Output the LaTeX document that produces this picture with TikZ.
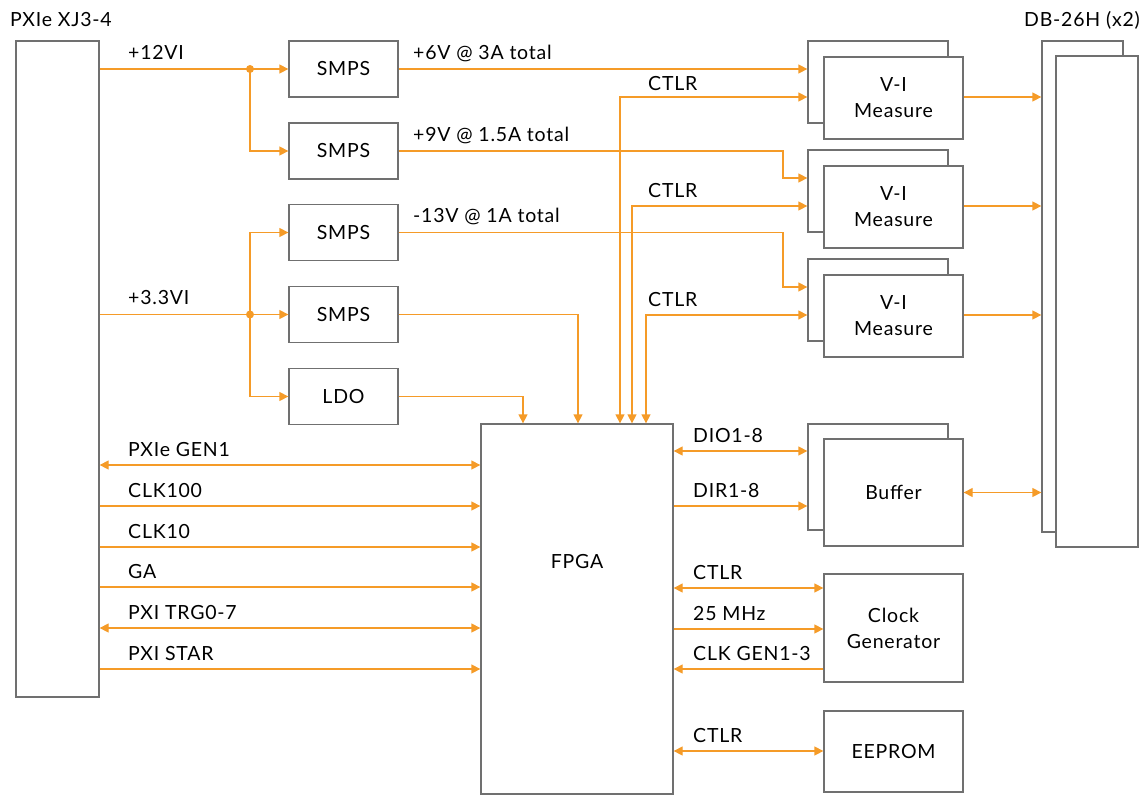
\documentclass[tikz,border=0pt]{standalone}
\usepackage{fontspec}
\setmainfont{Lato}[LetterSpace=4]
\usetikzlibrary{arrows.meta,calc}
\definecolor{wirec}{RGB}{245,155,40}
\definecolor{framec}{RGB}{112,112,112}
\begin{document}
\begin{tikzpicture}[x=1pt,y=-1pt,
  txt/.style={font=\fontsize{19.5}{26}\selectfont},
  box/.style={draw=framec,line width=1.3pt,fill=white,inner sep=0pt,align=center,txt},
  wire/.style={draw=wirec,line width=1.3pt,-{Triangle[length=9pt,width=9pt]}},
  bi/.style={draw=wirec,line width=1.3pt,{Triangle[length=9pt,width=9pt]}-{Triangle[length=9pt,width=9pt]}},
  lbl/.style={anchor=base west,inner sep=0pt,txt}]
\useasboundingbox (0,0) rectangle (1146,795);
% main blocks
\node[box,minimum width=83pt,minimum height=656pt] (pxie) at (57.5,369) {};
\node[box,minimum width=109pt,minimum height=56pt] (smps1) at (343.5,69) {SMPS};
\node[box,minimum width=109pt,minimum height=56pt] (smps2) at (343.5,151) {SMPS};
\node[box,minimum width=109pt,minimum height=56pt] (smps3) at (343.5,232.5) {SMPS};
\node[box,minimum width=109pt,minimum height=56pt] (smps4) at (343.5,314.5) {SMPS};
\node[box,minimum width=109pt,minimum height=56pt] (ldo) at (343.5,396.5) {LDO};
\node[box,minimum width=192pt,minimum height=370pt] (fpga) at (577,609) {};
\node[txt,inner sep=0pt] (fpgalbl) at (577,562) {FPGA};
% V-I measure stacks
\node[box,minimum width=140pt,minimum height=82pt] (vi1b) at (878,82) {};
\node[box,minimum width=139pt,minimum height=82pt] (vi1) at (893.5,98) {V-I\\Measure};
\node[box,minimum width=140pt,minimum height=82pt] (vi2b) at (878,191) {};
\node[box,minimum width=139pt,minimum height=82pt] (vi2) at (893.5,207) {V-I\\Measure};
\node[box,minimum width=140pt,minimum height=82pt] (vi3b) at (878,300) {};
\node[box,minimum width=139pt,minimum height=82pt] (vi3) at (893.5,316) {V-I\\Measure};
\node[box,minimum width=140pt,minimum height=106pt] (bufb) at (878,477) {};
\node[box,minimum width=139pt,minimum height=107pt] (buf) at (893.5,492.5) {Buffer};
\node[box,minimum width=139pt,minimum height=108pt] (clk) at (893.5,628) {Clock\\Generator};
\node[box,minimum width=139pt,minimum height=81pt] (eeprom) at (893.5,751.5) {EEPROM};
% DB-26H stack
\node[box,minimum width=81pt,minimum height=491pt] (dbb) at (1082.5,286.5) {};
\node[box,minimum width=82pt,minimum height=491pt] (db) at (1097,301.5) {};
% titles
\node[lbl] (t1) at (10,26) {PXIe XJ3-4};
\node[txt,anchor=base east,inner sep=0pt] (t2) at (1140,26) {DB-26H (x2)};
% power distribution
\coordinate (j12) at (250,69);
\coordinate (j33) at (250,314.5);
\draw[wire] (pxie.east |- smps1) -- (smps1.west);
\draw[wire] (j12) |- (smps2.west);
\draw[wire] (pxie.east |- smps4) -- (smps4.west);
\draw[wire] (j33) |- (smps3.west);
\draw[wire] (j33) |- (ldo.west);
\fill[wirec] (j12) circle (4pt);
\fill[wirec] (j33) circle (4pt);
\node[lbl] (l12) at (128,59) {+12VI};
\node[lbl] (l33) at (128,304) {+3.3VI};
% rails to V-I
\coordinate (p9) at (783,178);
\coordinate (p13) at (783,287);
\draw[wire] (smps1.east) -- (smps1.east -| vi1b.west);
\draw[wire] (smps2.east) -| (p9) -- (vi2b.west |- p9);
\draw[wire] (smps3.east) -| (p13) -- (vi3b.west |- p13);
\node[lbl] (l6) at (413,59) {+6V @ 3A total};
\node[lbl] (l9) at (413,141) {+9V @ 1.5A total};
\node[lbl] (l13) at (413,222) {-13V @ 1A total};
% CTLR to V-I
\coordinate (c1) at (620,97);
\coordinate (c2) at (632,206);
\coordinate (c3) at (646,315);
\draw[bi] (fpga.north -| c1) |- (vi1b.west |- c1);
\draw[bi] (fpga.north -| c2) |- (vi2b.west |- c2);
\draw[bi] (fpga.north -| c3) |- (vi3b.west |- c3);
\node[lbl] (lc1) at (648,90) {CTLR};
\node[lbl] (lc2) at (648,197) {CTLR};
\node[lbl] (lc3) at (648,306) {CTLR};
% SMPS4 and LDO to FPGA
\coordinate (s4) at (578,0);
\coordinate (sl) at (523,0);
\draw[wire] (smps4.east) -| (s4 |- fpga.north);
\draw[wire] (ldo.east) -| (sl |- fpga.north);
% V-I to DB
\draw[wire] (vi1.east |- c1) -- (dbb.west |- c1);
\draw[wire] (vi2.east |- c2) -- (dbb.west |- c2);
\draw[wire] (vi3.east |- c3) -- (dbb.west |- c3);
% PXIe bus
\coordinate (r1) at (0,465);
\coordinate (r2) at (0,506);
\coordinate (r3) at (0,547);
\coordinate (r4) at (0,587);
\coordinate (r5) at (0,628);
\coordinate (r6) at (0,669);
\draw[bi] (pxie.east |- r1) -- (fpga.west |- r1);
\draw[wire] (pxie.east |- r2) -- (fpga.west |- r2);
\draw[wire] (pxie.east |- r3) -- (fpga.west |- r3);
\draw[wire] (pxie.east |- r4) -- (fpga.west |- r4);
\draw[bi] (pxie.east |- r5) -- (fpga.west |- r5);
\draw[wire] (pxie.east |- r6) -- (fpga.west |- r6);
\node[lbl] (b1) at (128,456) {PXIe GEN1};
\node[lbl] (b2) at (128,497) {CLK100};
\node[lbl] (b3) at (128,538) {CLK10};
\node[lbl] (b4) at (128,578) {GA};
\node[lbl] (b5) at (128,619) {PXI TRG0-7};
\node[lbl] (b6) at (128,660) {PXI STAR};
% FPGA right side
\coordinate (q1) at (0,451);
\coordinate (q2) at (0,506);
\coordinate (q3) at (0,588);
\coordinate (q4) at (0,629);
\coordinate (q5) at (0,669);
\coordinate (q6) at (0,751);
\draw[bi] (fpga.east |- q1) -- (bufb.west |- q1);
\draw[wire] (fpga.east |- q2) -- (bufb.west |- q2);
\draw[bi] (buf.east) -- (dbb.west |- buf.east);
\draw[bi] (fpga.east |- q3) -- (clk.west |- q3);
\draw[wire] (fpga.east |- q4) -- (clk.west |- q4);
\draw[wire] (clk.west |- q5) -- (fpga.east |- q5);
\draw[bi] (fpga.east |- q6) -- (eeprom.west |- q6);
\node[lbl] (d1) at (693,442) {DIO1-8};
\node[lbl] (d2) at (693,497) {DIR1-8};
\node[lbl] (d3) at (693,579) {CTLR};
\node[lbl] (d4) at (693,620) {25 MHz};
\node[lbl] (d5) at (693,660) {CLK GEN1-3};
\node[lbl] (d6) at (693,742) {CTLR};
\end{tikzpicture}
\end{document}
